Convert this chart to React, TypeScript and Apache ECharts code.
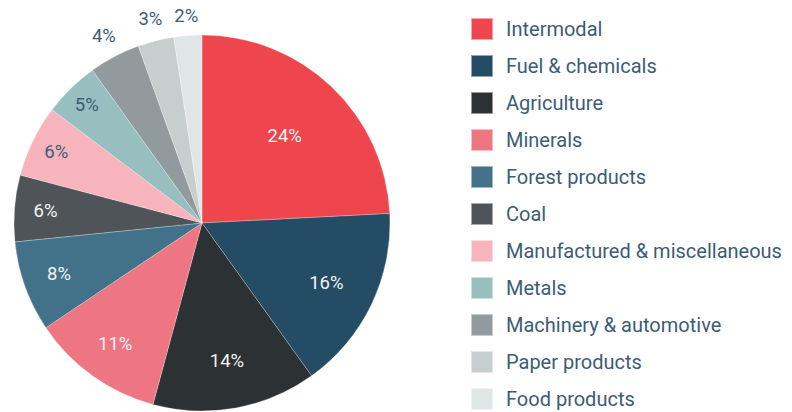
import React, { useEffect, useRef } from "react";
import * as echarts from "echarts";

const categories = [
  "Intermodal",
  "Fuel & chemicals",
  "Agriculture",
  "Minerals",
  "Forest products",
  "Coal",
  "Manufactured & miscellaneous",
  "Metals",
  "Machinery & automotive",
  "Paper products",
  "Food products",
];
const shares = [24.2, 15.9, 14.1, 11.4, 7.8, 5.7, 6.2, 4.8, 4.4, 3.1, 2.4];

// styles
const colors = [
  "#ef464e", "#244c65", "#2c3133", "#ee7683", "#41728a", "#4f5458",
  "#f7b4bd", "#97bfbf", "#919b9d", "#c6cfcd", "#dfe6e5",
];
const labelColors = [
  "#f2f4f5", "#f2f4f5", "#f2f4f5", "#f2f4f5", "#f2f4f5", "#f2f4f5",
  "#3d5c75", "#3d5c75", "#3d5c75", "#3d5c75", "#3d5c75",
];
// radial distance of each slice label from the centre, px
const labelDist = [120, 138, 140, 149, 152, 157, 162, 165, 211, 210, 208];

const CENTER = [202, 223];
const R = 188;
const FONT = "Roboto, 'Noto Sans', sans-serif";

export default function App() {
  const ref = useRef<HTMLDivElement>(null);
  useEffect(() => {
    if (!ref.current) return;
    const chart = echarts.init(ref.current, undefined, { renderer: "svg" });
    const data = categories.map((name, i) => ({
      name,
      value: shares[i],
      itemStyle: { color: colors[i] },
    }));
    const labelSeries = categories.map((_, k) => ({
      type: "pie",
      center: CENTER,
      radius: [0, 2 * (labelDist[k] - 3)],
      startAngle: 90,
      silent: true,
      animation: false,
      avoidLabelOverlap: false,
      z: 5,
      emphasis: { disabled: true },
      labelLine: { show: false },
      itemStyle: { color: "rgba(0,0,0,0)", borderWidth: 0 },
      data: categories.map((name, i) => ({
        name,
        value: shares[i],
        itemStyle: { color: "rgba(0,0,0,0)" },
        label: {
          show: i === k,
          position: "inside",
          formatter: () => `${Math.round(shares[i])}%`,
          color: labelColors[i],
          fontSize: 18.5,
          fontFamily: FONT,
        },
      })),
    }));
    chart.setOption({
      animation: false,
      legend: {
        orient: "vertical",
        left: 470,
        top: 17,
        padding: 0,
        itemWidth: 22,
        itemHeight: 22,
        itemGap: 13,
        icon: "rect",
        data: categories,
        textStyle: {
          fontSize: 20,
          color: "#3d5c75",
          fontFamily: FONT,
          padding: [0, 0, 0, 8],
        },
        selectedMode: false,
      },
      series: [
        {
          type: "pie",
          center: CENTER,
          radius: [0, R],
          startAngle: 90,
          clockwise: true,
          animation: false,
          label: { show: false },
          labelLine: { show: false },
          emphasis: { disabled: true },
          itemStyle: { borderColor: "rgba(255,255,255,0.5)", borderWidth: 0.5 },
          data,
        },
        ...labelSeries,
      ],
    });
    return () => chart.dispose();
  }, []);
  return (
    <div
      ref={ref}
      style={{ position: "fixed", left: 0, top: 0, width: 792, height: 412, background: "#fff" }}
    />
  );
}
